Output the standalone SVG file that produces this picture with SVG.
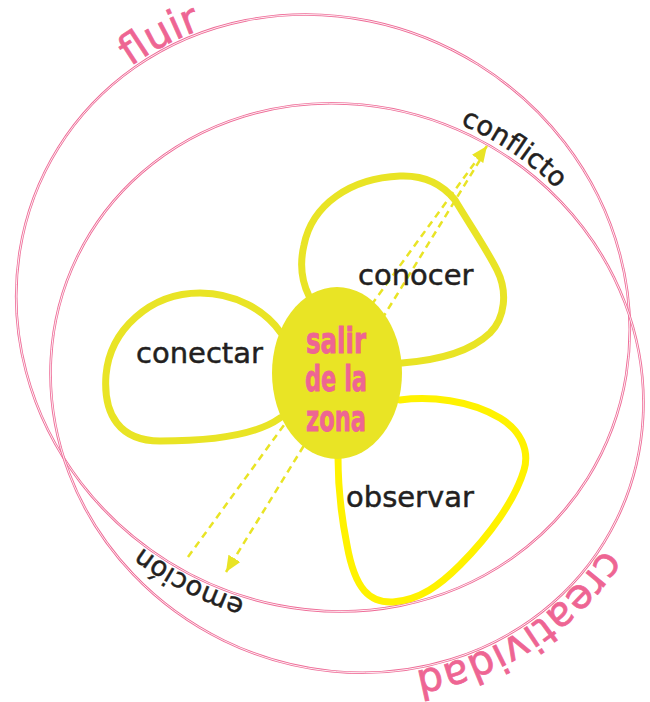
<svg xmlns="http://www.w3.org/2000/svg" xmlns:xlink="http://www.w3.org/1999/xlink" width="650" height="702" viewBox="0 0 650 702">
<style>
.po{fill:none;stroke:#EE6A96;stroke-width:2.6}
.pi{fill:none;stroke:#ffffff;stroke-width:0.8}
.petal{fill:none;stroke:#E9E425;stroke-width:7;stroke-linecap:round}
.petal2{fill:none;stroke:#FFF200;stroke-width:7;stroke-linecap:round}
.dash{fill:none;stroke:#E9E425;stroke-width:2.5;stroke-dasharray:7 5}
.lbl{font-family:"DejaVu Sans",sans-serif;font-size:29px;fill:#231F20;stroke:#231F20;stroke-width:0.5}
.arc{font-family:"DejaVu Sans",sans-serif;fill:#231F20;stroke:#231F20;stroke-width:0.5;font-size:27px}
.pk{font-family:"DejaVu Sans",sans-serif;fill:#EE6593;stroke:#EE6593;stroke-width:0.7;font-size:41px}
.zona{font-family:"Liberation Sans Narrow","DejaVu Sans Condensed","Liberation Sans",sans-serif;font-weight:bold;font-size:36px;fill:#EE6593;stroke:#EE6593;stroke-width:0.8;text-anchor:middle}
</style>
<defs>
<ellipse id="ellA" cx="0" cy="0" rx="312" ry="293"/>
<ellipse id="ellB" cx="0" cy="0" rx="300" ry="281"/>
<path id="pathA" d="M312,0 A312,293 0 1 1 -312,0 A312,293 0 1 1 312,0"/>
<path id="pathB" d="M300,0 A300,281 0 1 1 -300,0 A300,281 0 1 1 300,0"/>
<marker id="ah" markerUnits="userSpaceOnUse" markerWidth="16" markerHeight="14" refX="16" refY="7" orient="auto">
<path d="M0,0 L16,7 L0,14 Z" fill="#E9E425"/>
</marker>
</defs>

<g id="ring-fluir" transform="translate(323,313) rotate(32)">
<use href="#ellA" class="po"/>
<use href="#ellA" class="pi"/>
<text class="pk" dy="-3"><textPath href="#pathA" startOffset="57.8%" text-anchor="middle">fluir</textPath></text>
<text class="arc" dy="-3"><textPath href="#pathA" startOffset="23.5%" text-anchor="middle">emoción</textPath></text>
</g>

<g id="ring-creatividad" transform="translate(347,388) rotate(26)">
<use href="#ellB" class="po"/>
<use href="#ellB" class="pi"/>
<text class="pk" dy="-3"><textPath href="#pathB" startOffset="8%" text-anchor="middle">creatividad</textPath></text>
<text class="arc" dy="-6"><textPath href="#pathB" startOffset="77.4%" text-anchor="middle">conflicto</textPath></text>
</g>

<g id="connectors">
<line class="dash" x1="188" y1="557" x2="487" y2="146" marker-end="url(#ah)"/>
<line class="dash" x1="480" y1="160" x2="226" y2="572" marker-end="url(#ah)"/>
</g>

<g id="petal-conocer">
<path class="petal" d="M309,296 C301,280 300,262 304,245 C312,205 350,178 400,176 C425,175 443,185 455,200 C470,225 487,250 497,270 C508,292 505,318 490,333 C470,352 440,360 402,363"/>
<text class="lbl" x="358" y="285">conocer</text>
</g>

<g id="petal-conectar">
<path class="petal" d="M281,333 C265,310 235,293 200,293 C150,293 110,330 106,375 C103,415 120,441 160,441 C210,441 255,436 280,418"/>
<text class="lbl" x="136" y="363">conectar</text>
</g>

<g id="petal-observar">
<path class="petal2" d="M400,400 C430,396 470,400 500,418 C520,430 530,450 524,470 C515,500 490,535 460,565 C440,585 420,600 393,602 C370,603 355,590 347,545 C340,510 338,480 338,457"/>
<text class="lbl" x="346" y="507">observar</text>
</g>

<g id="center">
<ellipse cx="337" cy="373" rx="65" ry="86" fill="#E9E425"/>
<text class="zona" x="336" y="353" textLength="60" lengthAdjust="spacingAndGlyphs">salir</text>
<text class="zona" x="336" y="391" textLength="62" lengthAdjust="spacingAndGlyphs">de la</text>
<text class="zona" x="336" y="431" textLength="60" lengthAdjust="spacingAndGlyphs">zona</text>
</g>
</svg>
